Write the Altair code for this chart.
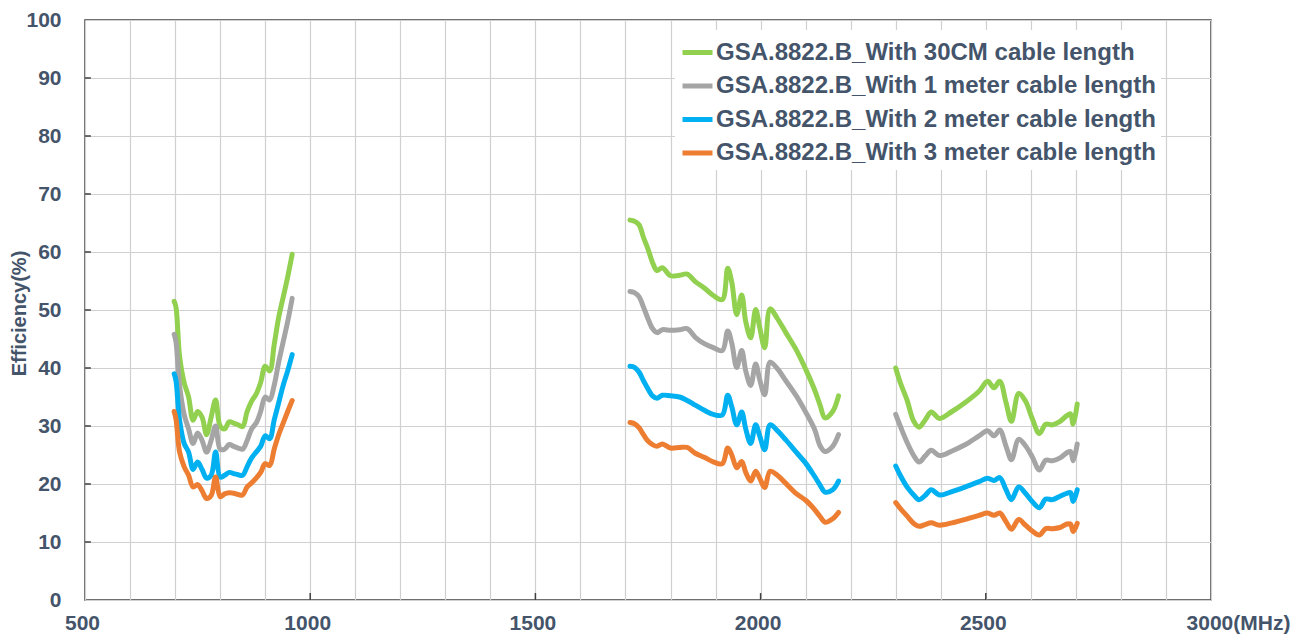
import altair as alt
import pandas as pd

SERIES = [
    "GSA.8822.B_With 30CM cable length",
    "GSA.8822.B_With 1 meter cable length",
    "GSA.8822.B_With 2 meter cable length",
    "GSA.8822.B_With 3 meter cable length",
]
COLORS = ["#92D050", "#A5A5A5", "#00B0F0", "#ED7D31"]

# ---- Low band (MHz) ----
low_freq = [698, 702, 710, 720, 730, 740, 750, 760, 770, 780, 790, 800, 810, 820,
            830, 840, 850, 860, 870, 880, 890, 900, 910, 920, 930, 940, 950, 960]
low_30cm = [51.5, 50.5, 42.0, 37.5, 35.0, 31.0, 32.5, 31.5, 28.5, 31.5, 34.5, 30.0, 29.5, 30.7,
            30.5, 30.2, 29.9, 32.5, 34.3, 35.5, 37.5, 40.3, 39.5, 44.0, 48.7, 52.2, 55.7, 59.6]
low_1m = [45.8, 44.5, 37.0, 32.0, 29.5, 27.0, 28.8, 27.5, 25.5, 27.5, 30.0, 26.0, 26.0, 26.8,
          26.5, 26.2, 26.0, 27.5, 29.5, 30.5, 32.5, 35.0, 34.5, 37.0, 41.0, 44.5, 48.0, 52.0]
low_2m = [39.0, 37.8, 31.0, 27.0, 25.5, 22.5, 23.8, 22.5, 21.0, 21.5, 25.5, 21.2, 21.5, 22.0,
          21.8, 21.6, 21.5, 23.0, 24.5, 25.5, 26.5, 28.3, 27.8, 31.0, 34.0, 37.0, 39.5, 42.3]
low_3m = [32.5, 31.2, 25.5, 23.0, 21.5, 19.5, 19.9, 18.8, 17.5, 18.0, 21.2, 17.8, 18.3, 18.5,
          18.4, 18.2, 18.1, 19.5, 20.2, 21.0, 22.0, 23.5, 23.2, 26.0, 28.5, 30.5, 32.5, 34.4]

# ---- Mid band (MHz) ----
mid_freq = [1710, 1720, 1730, 1740, 1750, 1760, 1770, 1782, 1800, 1820, 1837, 1855, 1875, 1895,
            1915, 1927, 1936, 1947, 1958, 1967, 1978, 1989, 1998, 2009, 2021, 2036, 2056, 2080,
            2100, 2120, 2132, 2143, 2160, 2173]
mid_30cm = [65.5, 65.3, 64.7, 62.5, 60.5, 58.2, 56.8, 57.3, 55.9, 56.0, 56.2, 54.9, 53.8, 52.5,
            51.8, 57.2, 54.8, 49.2, 52.6, 48.0, 45.2, 50.1, 47.0, 43.5, 50.2, 48.7, 46.1, 43.0,
            39.8, 36.2, 33.6, 31.4, 32.5, 35.2]
mid_1m = [53.2, 53.0, 52.3, 50.5, 48.5, 46.8, 46.1, 46.6, 46.5, 46.6, 46.8, 45.3, 44.2, 43.5,
          43.0, 46.4, 44.3, 40.1, 43.0, 39.5, 37.0, 40.7, 38.0, 35.4, 41.0, 40.0, 37.8, 35.1,
          32.4, 29.4, 26.6, 25.6, 26.5, 28.5]
mid_2m = [40.3, 40.1, 39.3, 37.8, 36.4, 35.2, 34.8, 35.3, 35.2, 35.0, 34.4, 33.6, 32.7, 32.0,
          31.9, 35.3, 33.3, 30.2, 32.4, 29.5, 27.0, 30.2, 28.3, 25.9, 30.2, 29.3, 27.6, 25.4,
          23.6, 21.3, 19.8, 18.6, 19.0, 20.5]
mid_3m = [30.6, 30.4, 29.7, 28.5, 27.4, 26.8, 26.5, 26.9, 26.2, 26.3, 26.3, 25.3, 24.6, 23.8,
          23.5, 26.2, 25.0, 22.8, 23.9, 22.0, 20.5, 22.2, 21.0, 19.4, 22.2, 21.6, 20.1, 18.3,
          17.2, 15.6, 14.4, 13.4, 14.0, 15.1]

# ---- High band (MHz) ----
high_freq = [2300, 2310, 2325, 2340, 2352, 2365, 2379, 2397, 2425, 2455, 2485, 2504, 2518, 2531,
             2545, 2557, 2573, 2588, 2603, 2619, 2633, 2648, 2665, 2680, 2688, 2694, 2703]
high_30cm = [40.0, 37.5, 34.5, 30.8, 29.8, 31.0, 32.4, 31.3, 32.5, 34.1, 36.0, 37.7, 36.6, 37.7,
             34.0, 30.8, 35.6, 34.3, 31.3, 28.7, 30.3, 30.2, 30.8, 31.8, 32.1, 30.3, 33.8]
high_1m = [32.0, 30.0, 27.2, 24.9, 23.8, 24.8, 25.8, 24.9, 25.7, 26.8, 28.3, 29.2, 28.3, 29.3,
           26.5, 24.2, 27.7, 26.6, 24.7, 22.4, 24.1, 24.0, 24.5, 25.4, 25.6, 24.0, 26.9]
high_2m = [23.1, 21.5, 19.5, 18.1, 17.3, 18.0, 19.0, 18.1, 18.7, 19.5, 20.4, 21.0, 20.6, 21.1,
           19.0, 17.3, 19.5, 18.4, 17.0, 15.9, 17.4, 17.3, 17.9, 18.4, 18.5, 17.0, 19.0]
high_3m = [16.8, 15.8, 14.5, 13.2, 12.7, 13.0, 13.3, 12.9, 13.3, 13.9, 14.6, 15.0, 14.6, 15.0,
           13.5, 12.2, 13.9, 12.9, 11.9, 11.2, 12.3, 12.3, 12.5, 13.1, 13.1, 11.8, 13.2]

x_grid_values = list(range(500, 3001, 100))
y_tick_values = list(range(0, 101, 10))
x_major_inner = [1000, 1500, 2000, 2500]
y_inner_ticks = list(range(10, 100, 10))

bands = {
    "low": (low_freq, [low_30cm, low_1m, low_2m, low_3m]),
    "mid": (mid_freq, [mid_30cm, mid_1m, mid_2m, mid_3m]),
    "high": (high_freq, [high_30cm, high_1m, high_2m, high_3m]),
}
rows = []
for band, (freqs, vals) in bands.items():
    for si, name in enumerate(SERIES):
        for f, v in zip(freqs, vals[si]):
            rows.append({"freq": f, "eff": v, "series": name, "band": band, "order": si})
df = pd.DataFrame(rows)

FONT = "Liberation Sans"
TXT = "#44546A"

x_axis = alt.Axis(
    values=x_grid_values, format="d", grid=True, gridColor="#D0D0D0", gridWidth=1.2,
    domain=False, ticks=False, tickSize=0, labelFlush=False, labelOverlap=False,
    labelExpr="datum.value == 3000 ? '3000(MHz)' : (datum.value % 500 == 0 ? datum.label : '')",
    labelFont=FONT, labelFontSize=21, labelFontWeight="bold", labelColor=TXT,
    labelPadding=12,
    labelOffset={"condition": {"test": "datum.value == 3000", "value": 27}, "value": -3},
    title=None,
)
y_axis = alt.Axis(
    values=y_tick_values, grid=True, gridColor="#D0D0D0", gridWidth=1.2,
    domain=False, ticks=False, tickSize=0, labelPadding=24,
    labelFont=FONT, labelFontSize=21, labelFontWeight="bold", labelColor=TXT,
    title="Efficiency(%)", titleFont=FONT, titleFontSize=20, titleFontWeight="bold",
    titleColor=TXT, titleX=-56, titleY=293,
)

xs = alt.Scale(domain=[500, 3000], nice=False, zero=False)
ys = alt.Scale(domain=[0, 100], nice=False)

lines = alt.Chart(df).mark_line(
    strokeWidth=5, interpolate="catmull-rom", strokeCap="round", strokeJoin="round"
).encode(
    x=alt.X("freq:Q", scale=xs, axis=x_axis),
    y=alt.Y("eff:Q", scale=ys, axis=y_axis),
    color=alt.Color(
        "series:N",
        scale=alt.Scale(domain=SERIES, range=COLORS),
        legend=alt.Legend(
            title=None, orient="none", legendX=590, legendY=10, direction="vertical",
            symbolType="stroke", symbolStrokeWidth=5, symbolSize=900,
            labelFont=FONT, labelFontSize=24, labelFontWeight="bold", labelColor=TXT,
            labelOffset=1, labelLimit=0, fillColor="white", padding=5, rowPadding=3.5,
        ),
    ),
    detail="band:N",
    order="order:Q",
)

ytick_df = pd.DataFrame({"freq": [500] * len(y_inner_ticks),
                         "freq2": [513] * len(y_inner_ticks),
                         "eff": y_inner_ticks})
ytick = alt.Chart(ytick_df).mark_rule(color="#404040", strokeWidth=1.5).encode(
    x=alt.X("freq:Q", scale=xs, axis=x_axis), x2="freq2:Q",
    y=alt.Y("eff:Q", scale=ys, axis=y_axis),
)
xtick_df = pd.DataFrame({"freq": x_major_inner, "eff": [0] * 4, "eff2": [1.2] * 4})
xtick = alt.Chart(xtick_df).mark_rule(color="#404040", strokeWidth=1.5).encode(
    x=alt.X("freq:Q", scale=xs, axis=x_axis),
    y=alt.Y("eff:Q", scale=ys, axis=y_axis), y2="eff2:Q",
)

chart = alt.layer(lines, ytick, xtick).properties(
    width=1126, height=580,
    padding={"left": 77, "top": 12, "right": 87, "bottom": 36},
    autosize=alt.AutoSizeParams(type="none"),
).configure(background="white").configure_view(stroke="#404040", strokeWidth=1.5)

chart.save("out.html", embed_options={"renderer": "svg", "actions": False})
